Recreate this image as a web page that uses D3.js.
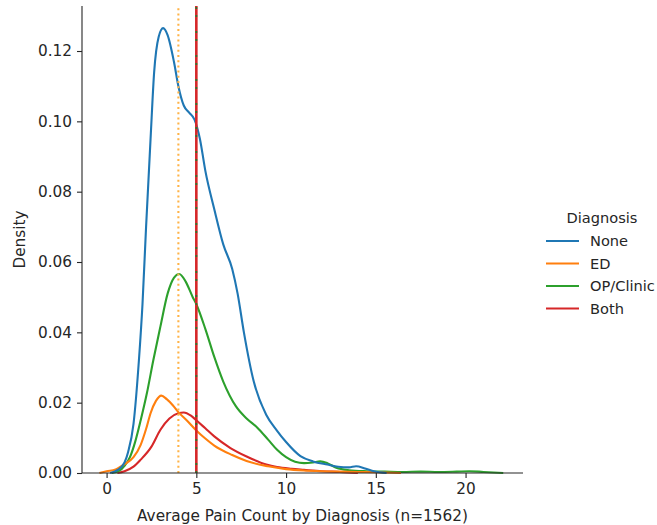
<!DOCTYPE html>
<html>
<head>
<meta charset="utf-8">
<script src="https://cdn.jsdelivr.net/npm/d3@7"></script>
<style>
	body { margin: 0; background: #fff; }
	text { font-family: "DejaVu Sans", sans-serif; fill: #262626; }
</style>
</head>
<body>
<div id="chart"></div>
<script>
	// density curves, one [x, density] list per group
	var categories = ['None', 'ED', 'OP/Clinic', 'Both'];
	var colors = ['#1f77b4', '#ff7f0e', '#2ca02c', '#d62728'];

	var noneCurve = [
		[0.2, 0], [0.6, 0.0008], [1.0, 0.003], [1.2, 0.006], [1.5, 0.014], [1.8, 0.032],
		[2.0, 0.048], [2.2, 0.07], [2.45, 0.095], [2.65, 0.114], [2.9, 0.124], [3.15, 0.1265],
		[3.4, 0.1245], [3.75, 0.117], [4.0, 0.11], [4.3, 0.1045], [4.6, 0.1025], [4.9, 0.1005],
		[5.2, 0.095], [5.5, 0.086], [6.0, 0.075], [6.5, 0.065], [7.0, 0.058], [7.3, 0.051],
		[7.65, 0.04], [8.2, 0.026], [8.9, 0.0165], [9.5, 0.012], [10.0, 0.0088], [10.8, 0.0048],
		[11.5, 0.0033], [12.3, 0.0024], [12.9, 0.0018], [13.5, 0.0016], [13.9, 0.0019],
		[14.4, 0.0013], [14.9, 0.0005], [15.6, 0]
	];
	var edCurve = [
		[-0.4, 0], [0, 0.0005], [0.5, 0.001], [1.0, 0.0025], [1.5, 0.0045], [1.9, 0.008],
		[2.2, 0.0125], [2.45, 0.017], [2.75, 0.0205], [3.05, 0.022], [3.35, 0.021], [3.7, 0.0192],
		[4.0, 0.0173], [4.5, 0.0148], [5.0, 0.0121], [5.5, 0.0098], [6.0, 0.0078], [7.0, 0.0051],
		[7.8, 0.0034], [9.0, 0.0019], [10, 0.0011], [11, 0.0007], [12, 0.0005], [13, 0.0004],
		[14, 0.0003], [15, 0.0002], [16.4, 0]
	];
	var clinicCurve = [
		[0.3, 0], [0.7, 0.0006], [1.0, 0.002], [1.3, 0.0045], [1.6, 0.009], [1.9, 0.015],
		[2.25, 0.0228], [2.6, 0.032], [3.0, 0.0417], [3.4, 0.051], [3.75, 0.0555], [4.05, 0.0566],
		[4.4, 0.0545], [4.8, 0.05], [5.0, 0.048], [5.5, 0.041], [6.0, 0.033], [6.5, 0.026],
		[7.2, 0.019], [7.8, 0.0155], [8.4, 0.0129], [9.0, 0.0095], [9.5, 0.0066], [10.0, 0.0045],
		[10.5, 0.0032], [11.0, 0.0028], [11.5, 0.003], [11.9, 0.0033], [12.3, 0.0028],
		[12.8, 0.0015], [13.5, 0.0008], [14.5, 0.0005], [15.5, 0.0004], [16.5, 0.0003],
		[17.5, 0.0004], [18.5, 0.0003], [19.5, 0.0004], [20.2, 0.0005], [21, 0.0003], [22.1, 0]
	];
	var bothCurve = [
		[0.6, 0], [1.0, 0.0005], [1.5, 0.0018], [1.9, 0.0038], [2.5, 0.0075], [3.0, 0.0123],
		[3.5, 0.0155], [4.0, 0.017], [4.3, 0.0172], [4.7, 0.0163], [5.0, 0.015], [5.5, 0.0127],
		[6.0, 0.0104], [6.9, 0.0071], [7.8, 0.0047], [8.9, 0.0024], [9.5, 0.0017], [10.3, 0.0012],
		[11, 0.0009], [12, 0.0005], [13, 0.0003], [14, 0]
	];
	var curves = [noneCurve, edCurve, clinicCurve, bothCurve];

	// reference lines: ED median (dotted), others at 5
	var edMarker = 4;
	var mainMarker = 5;

	var xTicks = [0, 5, 10, 15, 20];
	var yTicks = [0, 0.02, 0.04, 0.06, 0.08, 0.10, 0.12];

	var width = 657, height = 525;
	var margin = {top: 6, left: 82, right: 134, bottom: 52};

	var x = d3.scaleLinear().domain([-1.37, 23.2]).range([margin.left, width - margin.right]);
	var y = d3.scaleLinear().domain([0, 0.1328]).range([height - margin.bottom, margin.top]);

	var svg = d3.select('#chart').append('svg')
		.attr('width', width).attr('height', height);

	var line = d3.line()
		.x(d => x(d[0]))
		.y(d => y(d[1]))
		.curve(d3.curveMonotoneX);

	// curves, drawn back to front like seaborn's hue order reversed
	svg.append('g').selectAll('path')
		.data(curves.map((c, i) => ({c: c, i: i})).reverse())
		.enter().append('path')
		.attr('d', d => line(d.c))
		.attr('fill', 'none')
		.attr('stroke', d => colors[d.i])
		.attr('stroke-width', 2.1)
		.attr('stroke-linejoin', 'round');

	// vertical markers
	var vy0 = y.range()[0], vy1 = y.range()[1];
	svg.append('line')
		.attr('x1', x(edMarker)).attr('x2', x(edMarker))
		.attr('y1', vy0).attr('y2', vy1)
		.attr('stroke', '#ffb347').attr('stroke-width', 2.1)
		.attr('stroke-dasharray', '2,3.2');
	svg.append('line')
		.attr('x1', x(mainMarker)).attr('x2', x(mainMarker))
		.attr('y1', vy0).attr('y2', vy1)
		.attr('stroke', '#d62728').attr('stroke-width', 2.6);
	svg.append('line')
		.attr('x1', x(mainMarker)).attr('x2', x(mainMarker))
		.attr('y1', vy0).attr('y2', vy1)
		.attr('stroke', '#2a7a2e').attr('stroke-width', 1.8)
		.attr('stroke-dasharray', '2,6,2,14');

	// axes
	var xAxis = svg.append('g')
		.attr('transform', 'translate(0,' + y(0) + ')')
		.call(d3.axisBottom(x).tickValues(xTicks).tickFormat(d3.format('d')).tickSize(5).tickPadding(5));
	var yAxis = svg.append('g')
		.attr('transform', 'translate(' + margin.left + ',0)')
		.call(d3.axisLeft(y).tickValues(yTicks).tickFormat(d3.format('.2f')).tickSize(5).tickPadding(5));

	[xAxis, yAxis].forEach(g => {
		g.selectAll('path,line').attr('stroke', '#262626').attr('stroke-width', 1.1);
		g.selectAll('text').style('font-size', '15.3px').style('font-family', '"DejaVu Sans", sans-serif').attr('fill', '#262626');
		g.select('.domain').attr('d', g === xAxis
			? 'M' + x.range()[0] + ',0H' + x.range()[1]
			: 'M0,' + y.range()[0] + 'V' + y.range()[1]);
	});

	svg.append('text')
		.attr('x', (x.range()[0] + x.range()[1]) / 2)
		.attr('y', 521)
		.attr('text-anchor', 'middle')
		.style('font-size', '15.3px')
		.text('Average Pain Count by Diagnosis (n=1562)');

	svg.append('text')
		.attr('transform', 'translate(25,' + ((y.range()[0] + y.range()[1]) / 2) + ') rotate(-90)')
		.attr('text-anchor', 'middle')
		.style('font-size', '15.3px')
		.text('Density');

	// legend
	var legend = svg.append('g').attr('transform', 'translate(546,0)');
	legend.append('text')
		.attr('x', 56).attr('y', 223)
		.attr('text-anchor', 'middle')
		.style('font-size', '14.6px')
		.text('Diagnosis');
	var rows = legend.selectAll('g.row')
		.data(categories)
		.enter().append('g')
		.attr('class', 'row')
		.attr('transform', (d, i) => 'translate(0,' + (241 + i * 22.5) + ')');
	rows.append('line')
		.attr('x1', 0).attr('x2', 33)
		.attr('stroke', (d, i) => colors[i])
		.attr('stroke-width', 2.1);
	rows.append('text')
		.attr('x', 44).attr('y', 5.3)
		.style('font-size', '14.6px')
		.text(d => d);
</script>
</body>
</html>
